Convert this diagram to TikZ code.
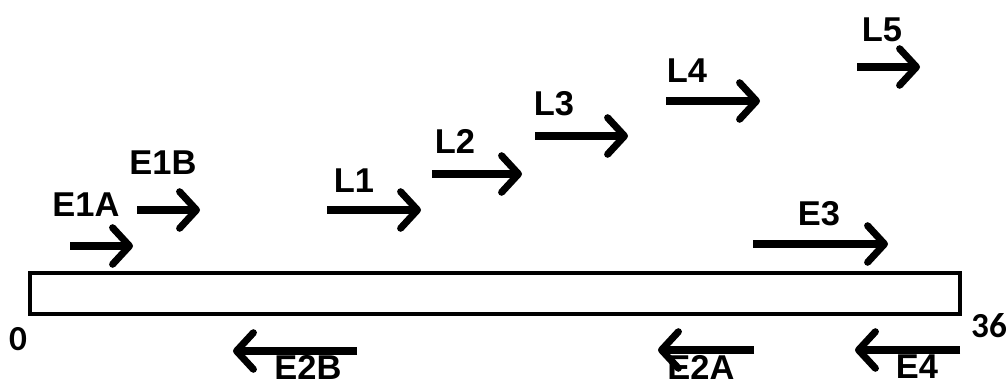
\documentclass[tikz,border=0pt]{standalone}
\usepackage{fontspec}
\setmainfont{Liberation Sans}
\newfontfamily\numfont{Carlito}
\usetikzlibrary{arrows.meta}
\begin{document}
\begin{tikzpicture}[x=0.025cm,y=-0.025cm,
  fwd/.style={line width=5pt,-{Straight Barb[length=12pt,width=26pt,round]}},
  lbl/.style={font=\fontsize{24.5}{28}\selectfont\bfseries,inner sep=0pt},
  num/.style={font=\numfont\fontsize{25}{28}\selectfont\bfseries,inner sep=0pt}]
\useasboundingbox (0,0) rectangle (1008,385);
\node[draw,line width=2.2pt,minimum width=930*0.025cm,minimum height=41*0.025cm,inner sep=0pt] (bar) at (495,293.5) {};
\node[num] (n0) at (18,339) {0};
\node[num] (n36) at (989,326) {36};
% arrows
\coordinate (e1as) at (70,246); \coordinate (e1ae) at (133,246);
\coordinate (e1bs) at (137,210); \coordinate (e1be) at (200,210);
\coordinate (l1s) at (327,210); \coordinate (l1e) at (421,210);
\coordinate (l2s) at (432,174); \coordinate (l2e) at (522,174);
\coordinate (l3s) at (535,136); \coordinate (l3e) at (628,136);
\coordinate (l4s) at (666,101); \coordinate (l4e) at (760,101);
\coordinate (l5s) at (857,67); \coordinate (l5e) at (920,67);
\coordinate (e3s) at (753,244); \coordinate (e3e) at (888,244);
\coordinate (e2bs) at (357,351); \coordinate (e2be) at (233,351);
\coordinate (e2as) at (754,350); \coordinate (e2ae) at (658,350);
\coordinate (e4s) at (960,350); \coordinate (e4e) at (855,350);
\foreach \a in {e1a,e1b,l1,l2,l3,l4,l5,e3,e2b,e2a,e4}
  \draw[fwd] (\a s) -- (\a e);
\node[lbl] (te1a) at (86,205) {E1A};
\node[lbl] (te1b) at (163,163) {E1B};
\node[lbl] (tl1) at (354,181) {L1};
\node[lbl] (tl2) at (455,141) {L2};
\node[lbl] (tl3) at (554,104) {L3};
\node[lbl] (tl4) at (687,71) {L4};
\node[lbl] (tl5) at (882,30) {L5};
\node[lbl] (te3) at (819,214) {E3};
\node[lbl] (te2b) at (308,367) {E2B};
\node[lbl] (te2a) at (701,367) {E2A};
\node[lbl] (te4) at (917,367) {E4};
\end{tikzpicture}
\end{document}
